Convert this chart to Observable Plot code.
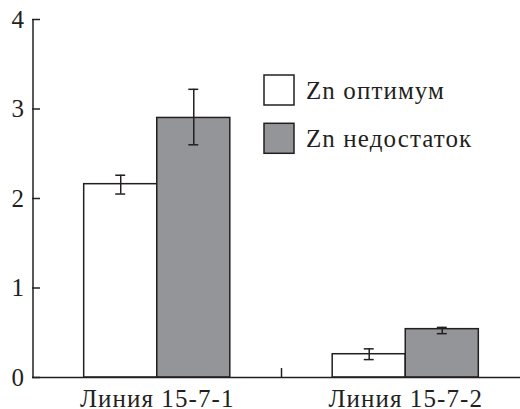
<!DOCTYPE html>
<html><head><meta charset="utf-8">
<script src="https://cdn.jsdelivr.net/npm/d3@7"></script>
<script src="https://cdn.jsdelivr.net/npm/@observablehq/plot@0.6"></script>
<style>
body{margin:0;background:#fff}
svg text{font-family:"Liberation Serif", serif !important; letter-spacing:1.1px}
</style>
</head><body><div id="chart"></div>
<script>
const groups = ["Линия 15-7-1", "Линия 15-7-2"];
const series = ["Zn оптимум", "Zn недостаток"];
const optimumMean = [2.16, 0.26];
const optimumLow = [2.05, 0.20];
const optimumHigh = [2.26, 0.32];
const deficitMean = [2.90, 0.54];
const deficitLow = [2.60, 0.49];
const deficitHigh = [3.22, 0.56];
const yTicks = [0, 1, 2, 3, 4];
const colors = ["#ffffff", "#939598"];

const ink = "#231f20";
const font = "Liberation Serif, serif";
const fs = 25;
const barW = 0.294;   // bar width as a fraction of one group's band
const capW = 0.02;    // half-width of error caps
const sets = [[optimumMean, optimumLow, optimumHigh], [deficitMean, deficitLow, deficitHigh]];
const rows = [];
groups.forEach((g, gi) => {
  sets.forEach(([m, lo, hi], si) => {
    const x1 = gi + 0.5 + (si - 1) * barW, x2 = gi + 0.5 + si * barW;
    rows.push({group: g, series: series[si], value: m[gi], lo: lo[gi], hi: hi[gi], x1, x2, cx: (x1 + x2) / 2});
  });
});

const plot = Plot.plot({
  width: 520, height: 409,
  marginTop: 19, marginBottom: 32, marginLeft: 32, marginRight: 0,
  style: {fontFamily: font, fontSize: fs + "px"},
  x: {domain: [0, 2], range: [32.5, 529.5], axis: null},
  y: {domain: [0, 4], range: [377, 19], axis: null},
  color: {domain: series, range: colors},
  marks: [
    Plot.rectY(rows, {x1: "x1", x2: "x2", y1: 0, y2: "value", fill: "series", stroke: ink, strokeWidth: 1.5}),
    Plot.ruleX(rows, {x: "cx", y1: "lo", y2: "hi", stroke: ink, strokeWidth: 1.5}),
    Plot.ruleY(rows, {y: "lo", x1: d => d.cx - capW, x2: d => d.cx + capW, stroke: ink, strokeWidth: 1.5}),
    Plot.ruleY(rows, {y: "hi", x1: d => d.cx - capW, x2: d => d.cx + capW, stroke: ink, strokeWidth: 1.5}),
    Plot.ruleY([0], {stroke: ink, strokeWidth: 1.5}),
    Plot.ruleX([0], {y1: 0, y2: 4, stroke: ink, strokeWidth: 1.5}),
    Plot.ruleX([1], {y1: 0, y2: 0.1, stroke: ink, strokeWidth: 1.5}),
    Plot.axisY(yTicks, {tickSize: -8, tickPadding: 15.5, tickFormat: d => String(d), stroke: ink, strokeWidth: 1.5, fill: ink, fontSize: fs, fontFamily: font}),
    Plot.axisX([0.5, 1.5], {tickSize: 0, tickPadding: 12, tickFormat: d => groups[Math.floor(d)], fill: ink, fontSize: fs, fontFamily: font})
  ]
});
plot.querySelectorAll("style").forEach(s => s.remove());

const svg = d3.select(plot);
const lg = svg.append("g").attr("text-anchor", "start");
series.forEach((s, i) => {
  const y = 75 + i * 48.3;
  lg.append("rect").attr("x", 264).attr("y", y).attr("width", 30).attr("height", 30)
    .attr("fill", colors[i]).attr("stroke", ink).attr("stroke-width", 1.5);
  lg.append("text").attr("x", 306).attr("y", y + 23.5).attr("fill", ink).text(s);
});
svg.selectAll("text").attr("font-family", font).style("font-family", font).style("font-size", fs + "px");
document.getElementById("chart").appendChild(plot);
</script>
</body></html>
